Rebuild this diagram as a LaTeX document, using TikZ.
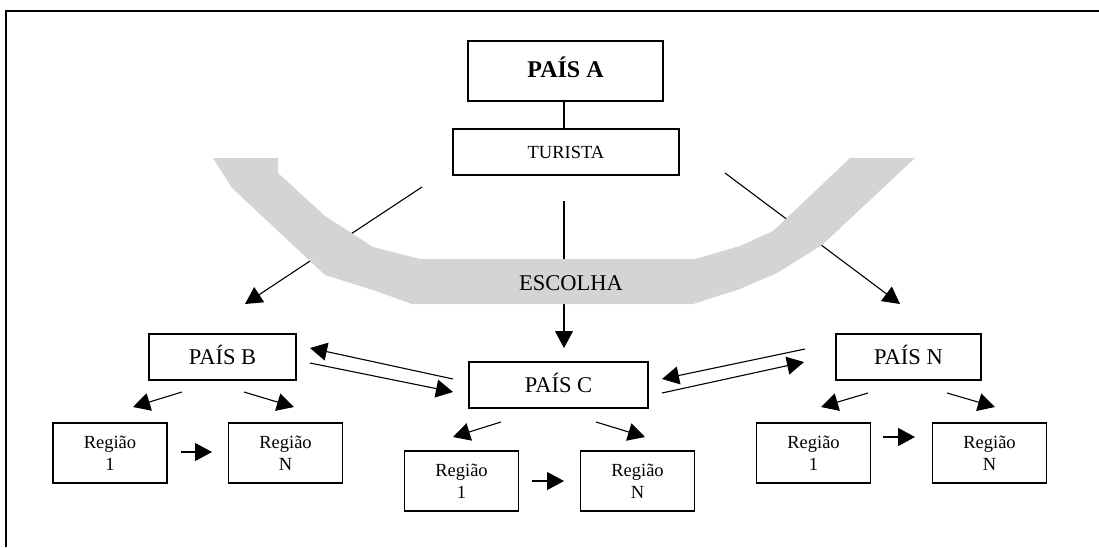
\documentclass[tikz,border=0pt]{standalone}
\usepackage{fontspec}
\setmainfont{Liberation Serif}
\usetikzlibrary{arrows.meta}
\definecolor{bandgray}{RGB}{212,212,212}
\tikzset{
  box/.style={draw, line width=1.2pt, inner sep=0pt, anchor=center},
  bigbox/.style={box, font=\fontsize{22.5}{26}\selectfont, text height=15pt, text depth=0pt},
  regbox/.style={box, align=center, minimum width=114pt, minimum height=60pt,
                 font=\fontsize{18.5}{22}\selectfont},
  link/.style={line width=1.1pt},
  arr/.style={link, -{Triangle[length=17pt,width=18pt]}},
}
\begin{document}
\begin{tikzpicture}[x=1pt,y=-1pt]
\useasboundingbox (0,0) rectangle (1099,547);

% frame (top and left edges)
\draw[line width=1.1pt] (1099,11) -- (6,11) -- (6,547);

% boxes
\node[box, minimum width=195pt, minimum height=60pt,
      font=\bfseries\fontsize{24}{28}\selectfont] (paisA) at (565.5,71)
      {\raisebox{7pt}{PAÍS A}};
\node[box, minimum width=226pt, minimum height=46pt,
      font=\fontsize{18.5}{22}\selectfont, text height=12pt, text depth=0pt]
      (turista) at (566,152) {TURISTA};
\node[bigbox, minimum width=147pt, minimum height=46pt] (paisB) at (222.5,357) {PAÍS B};
\node[bigbox, minimum width=179pt, minimum height=46pt] (paisC) at (558.5,385) {PAÍS C};
\node[bigbox, minimum width=145pt, minimum height=46pt] (paisN) at (908.5,357) {PAÍS N};

\node[regbox] (rB1) at (110,453)   {Região\\1};
\node[regbox] (rBN) at (285.5,453) {Região\\N};
\node[regbox] (rC1) at (461.5,481) {Região\\1};
\node[regbox] (rCN) at (637.5,481) {Região\\N};
\node[regbox] (rN1) at (813.5,453) {Região\\1};
\node[regbox] (rNN) at (989.5,453) {Região\\N};

\draw[link] (paisA.south -| 564,0) -- (turista.north -| 564,0);

% free ends of the choice arrows
\coordinate (tL) at (422,187);  \coordinate (hB) at (245,304);
\coordinate (tM) at (564,201);  \coordinate (hC) at (564,348);
\coordinate (tR) at (725,173);  \coordinate (hN) at (900,304);

\draw[arr] (tL) -- (hB);
\draw[arr] (tM) -- (hC);
\draw[arr] (tR) -- (hN);

% the choice band, laid over the arrows
\fill[bandgray] (213,158) -- (278,158) -- (278,173) -- (325,216) -- (373,247)
  -- (420,259) -- (695,259) -- (740,246) -- (773,231) -- (850,158) -- (915,158)
  -- (822,245) -- (777,273) -- (740,289) -- (693,304) -- (412,304) -- (373,290)
  -- (325,275) -- (232,188) -- cycle;
\node[font=\fontsize{22.5}{26}\selectfont] (escolha) at (571,283) {ESCOLHA};

% country to country
\coordinate (cb1) at (453,379); \coordinate (cb2) at (310,348);
\coordinate (bc1) at (310,363); \coordinate (bc2) at (453,392);
\coordinate (nc1) at (805,349); \coordinate (nc2) at (662,379);
\coordinate (cn1) at (662,393); \coordinate (cn2) at (804,362);
\draw[arr] (cb1) -- (cb2);
\draw[arr] (bc1) -- (bc2);
\draw[arr] (nc1) -- (nc2);
\draw[arr] (cn1) -- (cn2);

% country to regions
\coordinate (b1s) at (182,392); \coordinate (b1e) at (133,407);
\coordinate (bNs) at (244,392); \coordinate (bNe) at (294,407);
\coordinate (c1s) at (501,422); \coordinate (c1e) at (453,437);
\coordinate (cNs) at (596,422); \coordinate (cNe) at (645,437);
\coordinate (n1s) at (868,393); \coordinate (n1e) at (821,407);
\coordinate (nNs) at (947,393); \coordinate (nNe) at (995,407);
\draw[arr] (b1s) -- (b1e);
\draw[arr] (bNs) -- (bNe);
\draw[arr] (c1s) -- (c1e);
\draw[arr] (cNs) -- (cNe);
\draw[arr] (n1s) -- (n1e);
\draw[arr] (nNs) -- (nNe);

% region to region
\coordinate (rbA) at (181,452); \coordinate (rbB) at (212,452);
\coordinate (rcA) at (532,481); \coordinate (rcB) at (564,481);
\coordinate (rnA) at (883,437); \coordinate (rnB) at (915,437);
\draw[arr] (rbA) -- (rbB);
\draw[arr] (rcA) -- (rcB);
\draw[arr] (rnA) -- (rnB);
\end{tikzpicture}
\end{document}
